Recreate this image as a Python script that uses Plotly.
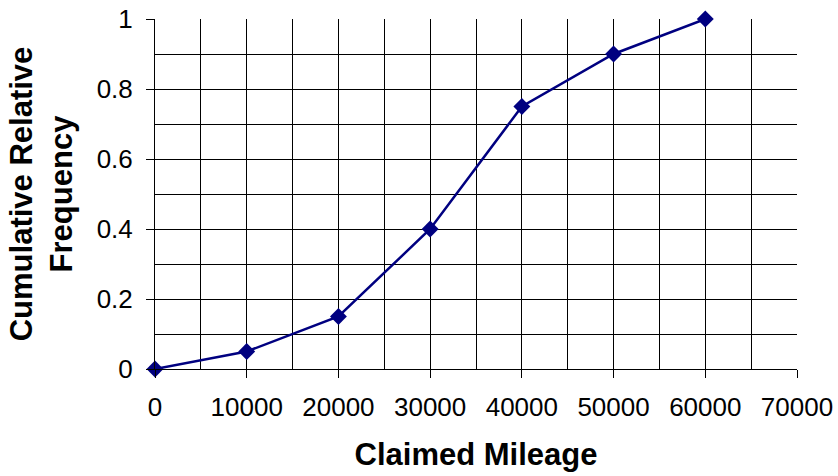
import plotly.graph_objects as go

mileage = [0, 10000, 20000, 30000, 40000, 50000, 60000]
cum_rel_freq = [0, 0.05, 0.15, 0.4, 0.75, 0.9, 1.0]
x_tick_vals = [0, 10000, 20000, 30000, 40000, 50000, 60000, 70000]
y_tick_vals = [0, 0.2, 0.4, 0.6, 0.8, 1]
y_tick_text = ["0", "0.2", "0.4", "0.6", "0.8", "1"]

fig = go.Figure()
fig.add_trace(go.Scatter(
    x=mileage, y=cum_rel_freq, mode="lines+markers",
    line=dict(color="#000080", width=2.5),
    marker=dict(symbol="diamond", size=13, color="#000080"),
    cliponaxis=False,
))

font_family = "Liberation Sans, Arial, sans-serif"
fig.update_layout(
    width=838, height=476,
    margin=dict(l=155, r=41, t=19, b=107),
    paper_bgcolor="white", plot_bgcolor="white",
    showlegend=False,
    font=dict(family=font_family, color="black"),
)
fig.update_xaxes(
    range=[0, 70000], tickvals=x_tick_vals, ticktext=[str(v) for v in x_tick_vals],
    ticks="outside", ticklen=8, tickcolor="black", tickwidth=1,
    tickfont=dict(size=26, family=font_family, color="black"),
    ticklabelstandoff=7, ticklabeloverflow="allow",
    showline=True, linecolor="black", linewidth=1, mirror=False,
    showgrid=True, gridcolor="black", gridwidth=1,
    minor=dict(dtick=5000, tick0=0, showgrid=True, gridcolor="black", gridwidth=1),
    zeroline=False, automargin=False,
    title=dict(text="<b>Claimed Mileage</b>", font=dict(size=31, family=font_family, color="black"), standoff=22),
)
fig.update_yaxes(
    range=[0, 1], tickvals=y_tick_vals, ticktext=y_tick_text,
    ticks="outside", ticklen=8, tickcolor="black", tickwidth=1,
    tickfont=dict(size=26, family=font_family, color="black"),
    ticklabelstandoff=8, ticklabeloverflow="allow",
    showline=True, linecolor="black", linewidth=1,
    showgrid=True, gridcolor="black", gridwidth=1,
    minor=dict(dtick=0.1, tick0=0, showgrid=True, gridcolor="black", gridwidth=1),
    zeroline=False, automargin=False,
    title=dict(text="<b>Cumulative Relative<br>Frequency</b>", font=dict(size=31, family=font_family, color="black"), standoff=14),
)

fig.write_html("out.html", config={"displayModeBar": False},
               post_script="document.body.style.margin='0';")
